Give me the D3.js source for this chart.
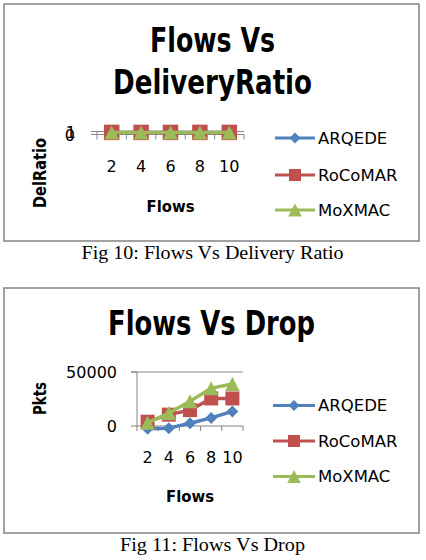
<!DOCTYPE html>
<html>
<head>
<meta charset="utf-8">
<script src="https://cdn.jsdelivr.net/npm/d3@7"></script>
<style>
  html, body { margin: 0; padding: 0; background: #fff; }
  svg { display: block; }
  .bold { font-family: "DejaVu Sans Condensed", "DejaVu Sans", sans-serif; font-weight: bold; font-stretch: condensed; }
  .reg { font-family: "DejaVu Sans", sans-serif; }
  .cap { font-family: "Liberation Serif", "DejaVu Serif", serif; }
</style>
</head>
<body>
<svg id="c" width="426" height="560"></svg>
<script>
// ---------------- data ----------------
const categories = [2, 4, 6, 8, 10];
const seriesNames = ["ARQEDE", "RoCoMAR", "MoXMAC"];
const seriesColors = ["#4F81BD", "#C0504D", "#9BBB59"];

// Fig 10: Flows Vs Delivery Ratio
const deliveryARQEDE = [0.7, 0.7, 0.7, 0.7, 0.7];
const deliveryRoCoMAR = [0.7, 0.7, 0.7, 0.7, 0.7];
const deliveryMoXMAC = [0.7, 0.7, 0.7, 0.7, 0.7];
const deliveryTicks = [0, 1];

// Fig 11: Flows Vs Drop
const dropARQEDE = [-2500, -2000, 2500, 7500, 13500];
const dropRoCoMAR = [4000, 10500, 14700, 25500, 25500];
const dropMoXMAC = [3000, 12000, 23000, 35000, 39000];
const dropTicks = [0, 50000];

// ---------------- drawing ----------------
const svg = d3.select("#c");
const gridColor = "#868686";

function markerPath(kind, s) {
  const h = s / 2;
  if (kind === 0) return `M0,${-h}L${h},0L0,${h}L${-h},0Z`;
  if (kind === 1) return `M${-h},${-h}H${h}V${h}H${-h}Z`;
  return `M0,${-h}L${h * 1.05},${h}L${-h * 1.05},${h}Z`;
}

function drawChart(cfg) {
  const g = svg.append("g");
  // border
  g.append("rect")
    .attr("x", cfg.box[0]).attr("y", cfg.box[1])
    .attr("width", cfg.box[2] - cfg.box[0]).attr("height", cfg.box[3] - cfg.box[1])
    .attr("fill", "#fff").attr("stroke", "#8a8a8a").attr("stroke-width", 1.6);

  // title
  cfg.title.forEach(t => {
    g.append("text").attr("class", "bold")
      .attr("x", t.x).attr("y", t.y).attr("text-anchor", "middle")
      .attr("font-size", 33).attr("textLength", t.w).attr("lengthAdjust", "spacingAndGlyphs")
      .text(t.text);
  });

  const x = d3.scaleBand().domain(cfg.cats).range(cfg.xr).padding(0);
  const y = d3.scaleLinear().domain(cfg.yDomain).range(cfg.yr);

  // gridlines (non-zero ticks)
  cfg.yTicks.forEach(v => {
    if (v !== 0) {
      g.append("line").attr("x1", cfg.xr[0] - 6).attr("x2", cfg.xr[1])
        .attr("y1", y(v)).attr("y2", y(v))
        .attr("stroke", gridColor).attr("stroke-width", 1);
    }
  });
  // y axis line
  g.append("line").attr("x1", cfg.xr[0]).attr("x2", cfg.xr[0])
    .attr("y1", y(cfg.yDomain[0])).attr("y2", y(cfg.yDomain[1]))
    .attr("stroke", gridColor).attr("stroke-width", 1);
  // y tick marks
  cfg.yTicks.forEach(v => {
    g.append("line").attr("x1", cfg.xr[0] - 6).attr("x2", cfg.xr[0])
      .attr("y1", y(v)).attr("y2", y(v)).attr("stroke", gridColor).attr("stroke-width", 1);
  });
  // x axis (at zero)
  g.append("line").attr("x1", cfg.xr[0]).attr("x2", cfg.xr[1])
    .attr("y1", y(0)).attr("y2", y(0)).attr("stroke", gridColor).attr("stroke-width", 1.2);
  // x tick marks at boundaries
  for (let i = 0; i <= cfg.cats.length; i++) {
    const xx = cfg.xr[0] + i * x.bandwidth();
    g.append("line").attr("x1", xx).attr("x2", xx)
      .attr("y1", y(0)).attr("y2", y(0) + 5).attr("stroke", gridColor).attr("stroke-width", 1);
  }
  // y tick labels
  cfg.yTicks.forEach((v, i) => {
    g.append("text").attr("class", "reg").attr("font-size", 16)
      .attr("x", cfg.yLabelX + (cfg.yLabelShift ? i * 1 : 0))
      .attr("y", y(v) + (cfg.yLabelDy || 0)).attr("dy", "0.36em")
      .attr("text-anchor", "end").text(String(v));
  });
  // x tick labels
  cfg.cats.forEach(c => {
    g.append("text").attr("class", "reg").attr("font-size", 16)
      .attr("x", x(c) + x.bandwidth() / 2).attr("y", cfg.xLabelY)
      .attr("text-anchor", "middle").text(String(c));
  });
  // axis titles
  g.append("text").attr("class", "bold").attr("font-size", 16.5)
    .attr("x", cfg.xTitle[0]).attr("y", cfg.xTitle[1]).attr("text-anchor", "middle").text("Flows");
  g.append("text").attr("class", "bold").attr("font-size", 17)
    .attr("transform", `translate(${cfg.yTitle[0]},${cfg.yTitle[1]}) rotate(-90)`)
    .attr("text-anchor", "middle").attr("dy", "0.35em")
    .attr("textLength", cfg.yTitleW).attr("lengthAdjust", "spacingAndGlyphs")
    .text(cfg.yTitleText);

  // series
  const line = d3.line().x((d, i) => x(cfg.cats[i]) + x.bandwidth() / 2).y(d => y(d));
  cfg.series.forEach((vals, k) => {
    const sg = g.append("g");
    sg.append("path").attr("d", line(vals)).attr("fill", "none")
      .attr("stroke", seriesColors[k]).attr("stroke-width", 3.5).attr("stroke-linejoin", "round");
    vals.forEach((v, i) => {
      sg.append("path").attr("d", markerPath(k, cfg.markerSizes[k]))
        .attr("transform", `translate(${x(cfg.cats[i]) + x.bandwidth() / 2},${y(v)})`)
        .attr("fill", seriesColors[k]);
    });
  });

  // legend
  seriesNames.forEach((n, k) => {
    const ly = cfg.legendY[k];
    g.append("line").attr("x1", cfg.legendX[0]).attr("x2", cfg.legendX[1])
      .attr("y1", ly).attr("y2", ly).attr("stroke", seriesColors[k]).attr("stroke-width", 3.2);
    g.append("path").attr("d", markerPath(k, [11, 12, 13][k]))
      .attr("transform", `translate(${(cfg.legendX[0] + cfg.legendX[1]) / 2},${ly})`)
      .attr("fill", seriesColors[k]);
    g.append("text").attr("class", "reg").attr("font-size", 16.5)
      .attr("x", cfg.legendX[1] + 3).attr("y", ly).attr("dy", "0.36em").text(n);
  });

  // caption
  g.append("text").attr("class", "cap").attr("font-size", 18.5)
    .attr("x", cfg.caption.x).attr("y", cfg.caption.y).attr("text-anchor", "middle")
    .attr("textLength", cfg.caption.w).attr("lengthAdjust", "spacingAndGlyphs")
    .text(cfg.caption.text);
}

drawChart({
  box: [4, 4, 419, 241],
  title: [
    { text: "Flows Vs", x: 212.5, y: 52, w: 125 },
    { text: "DeliveryRatio", x: 212.5, y: 94, w: 199 }
  ],
  cats: categories,
  xr: [97, 244],
  yr: [134.5, 131.5],
  yDomain: [0, 1],
  yTicks: deliveryTicks,
  yLabelX: 75,
  yLabelDy: 1,
  yLabelShift: true,
  xLabelY: 172,
  xTitle: [170.5, 211.5],
  yTitle: [40, 173],
  yTitleText: "DelRatio",
  yTitleW: 70,
  series: [deliveryARQEDE, deliveryRoCoMAR, deliveryMoXMAC],
  markerSizes: [12, 15.5, 14],
  legendX: [275, 315],
  legendY: [138, 175, 210],
  caption: { text: "Fig 10: Flows Vs Delivery Ratio", x: 212.5, y: 259, w: 262 }
});

drawChart({
  box: [4, 288, 419, 533],
  title: [
    { text: "Flows Vs Drop", x: 211.5, y: 335, w: 207 }
  ],
  cats: categories,
  xr: [137, 243],
  yr: [426, 372],
  yDomain: [0, 50000],
  yTicks: dropTicks,
  yLabelX: 117,
  xLabelY: 463,
  xTitle: [190, 501.5],
  yTitle: [40.5, 398.5],
  yTitleText: "Pkts",
  yTitleW: 33,
  series: [dropARQEDE, dropRoCoMAR, dropMoXMAC],
  markerSizes: [12, 14, 14],
  legendX: [273, 315],
  legendY: [405.5, 441, 476.5],
  caption: { text: "Fig 11: Flows Vs Drop", x: 212.5, y: 550.5, w: 185 }
});
</script>
</body>
</html>
